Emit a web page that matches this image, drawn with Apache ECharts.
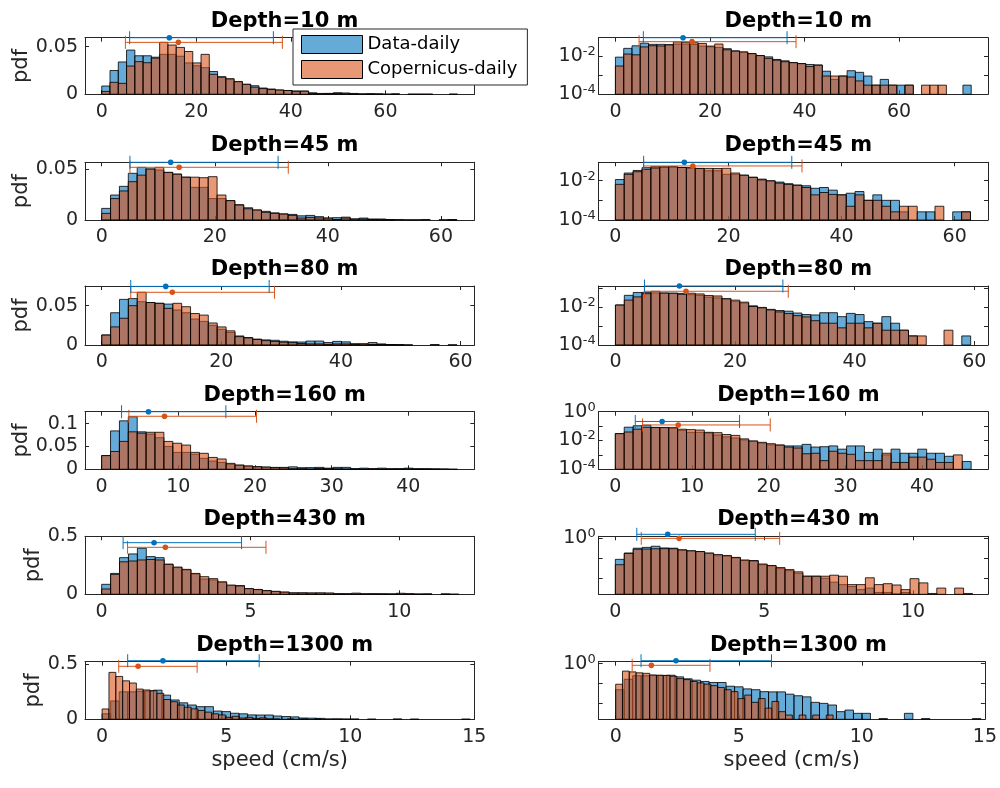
<!DOCTYPE html>
<html>
<head>
<meta charset="utf-8">
<script src="https://cdn.jsdelivr.net/npm/echarts@6/dist/echarts.min.js"></script>
<style>
  html, body { margin: 0; padding: 0; background: #fff; }
  #chart { width: 1000px; height: 788px; }
</style>
</head>
<body>
<div id="chart"></div>
<script>
// depths shown in the panel titles
const depths = ['10', '45', '80', '160', '430', '1300'];

// bin widths (cm/s), every histogram starts at 0
const binWidthData = [1.75, 1.57, 1.485, 1.16, 0.3, 0.345];
const binWidthCop = [1.75, 1.57, 1.485, 1.16, 0.3, 0.276];

// pdf per bin, Data-daily
const pdfData10 = [0.0087,0.025,0.034,0.0465,0.0405,0.0405,0.039,0.042,0.042,0.040,0.033,0.030,0.028,0.024,0.0185,0.0155,0.013,0.0105,0.009,0.0066,0.0056,0.0045,0.0040,0.0036,0.0034,0.0016,0.0006,0.0009,0.0017,0.0014,0.0009,0.0003,0.0006,0.0003,0.0003,0.0003,0,0,0,0,0,0,0.0003];
const pdfData45 = [0.0114,0.0245,0.033,0.0458,0.0516,0.050,0.049,0.0467,0.045,0.042,0.032,0.032,0.021,0.021,0.019,0.015,0.012,0.0098,0.0085,0.007,0.006,0.0055,0.0041,0.0045,0.0033,0.0019,0.0023,0.0028,0.001,0.0019,0.001,0.001,0.00026,0,0.00026,0.00026,0,0,0.00026,0.00026];
const pdfData80 = [0.0127,0.041,0.058,0.059,0.055,0.054,0.053,0.052,0.0445,0.041,0.033,0.030,0.025,0.020,0.016,0.0115,0.0095,0.0075,0.0065,0.006,0.0048,0.004,0.0038,0.005,0.005,0.0031,0.0046,0.004,0.0017,0.0014,0.0031,0.0014,0.0006,0.0003,0,0,0,0,0,0.0003];
const pdfData160 = [0.030,0.084,0.106,0.115,0.082,0.077,0.069,0.050,0.037,0.037,0.033,0.024,0.018,0.015,0.011,0.0085,0.0065,0.005,0.0045,0.0042,0.0042,0.0054,0.0035,0.0037,0.0042,0.0025,0.0042,0.0042,0.0015,0.0025,0.001,0.0025,0.0013,0.0013,0.0025,0.0013,0.0013,0.0008,0,0.00035];
const pdfData430 = [0.086,0.18,0.316,0.348,0.397,0.325,0.316,0.259,0.23,0.21,0.175,0.132,0.124,0.103,0.075,0.075,0.046,0.04,0.029,0.023,0.017,0.012,0.012,0.0095,0.006,0.0045,0.0036,0.0025,0.003,0.0018,0.0018,0.0015,0.0018,0.0012,0.001,0.0008,0.0008,0,0.0005,0];
const pdfData1300 = [0.05,0.167,0.25,0.25,0.255,0.258,0.265,0.22,0.176,0.15,0.13,0.115,0.115,0.075,0.07,0.055,0.05,0.04,0.039,0.039,0.03,0.025,0.022,0.0117,0.0104,0.0086,0.004,0.0048,0.0033,0.0033,0,0.0018,0,0,0.0033,0,0.0018,0,0,0,0,0,0.0018];

// pdf per bin, Copernicus-daily
const pdfCop10 = [0.003,0.0126,0.0115,0.0297,0.0343,0.0332,0.038,0.0546,0.0518,0.0493,0.045,0.033,0.042,0.021,0.018,0.0165,0.0135,0.0105,0.0075,0.006,0.005,0.0045,0.004,0.0028,0.0033,0.0009,0.0009,0.0009,0.0008,0.0005,0.0003,0.0003,0.0003,0.0003,0,0.0003,0,0.0003,0.0003,0.0003];
const pdfCop45 = [0.0065,0.021,0.0285,0.0376,0.044,0.050,0.0516,0.0467,0.045,0.042,0.042,0.0415,0.0425,0.0245,0.019,0.0147,0.011,0.0098,0.0075,0.0065,0.0058,0.0045,0.0019,0.0025,0.002,0.0019,0.0005,0.0019,0.001,0.001,0.0005,0.00026,0.0005,0.0005,0,0,0.0005,0,0,0.00026];
const pdfCop80 = [0.0127,0.023,0.034,0.05,0.067,0.054,0.053,0.0466,0.053,0.0487,0.040,0.038,0.028,0.023,0.018,0.0106,0.009,0.007,0.0055,0.0045,0.0035,0.003,0.0019,0.0014,0.0014,0.0008,0.0014,0.0014,0.0008,0.0014,0.0006,0.0006,0.0006,0.0003,0.0003,0,0,0.0006,0,0];
const pdfCop160 = [0.030,0.039,0.061,0.082,0.079,0.081,0.081,0.061,0.057,0.053,0.037,0.035,0.026,0.0226,0.013,0.0095,0.0075,0.006,0.005,0.0035,0.003,0.0012,0.0013,0.0004,0.0018,0.0013,0.0011,0.0004,0.0004,0.0004,0.0013,0.0003,0.0003,0.0007,0.0007,0.0005,0.0003,0.0003,0.001,0];
const pdfCop430 = [0.046,0.172,0.28,0.287,0.296,0.30,0.296,0.259,0.235,0.215,0.18,0.152,0.135,0.108,0.08,0.072,0.05,0.042,0.033,0.026,0.02,0.012,0.012,0.012,0.0135,0.012,0.0045,0.0045,0.01,0.0045,0.005,0.0043,0.0025,0.009,0.0055,0.0016,0.003,0,0.003,0.0016];
const pdfCop1300 = [0.094,0.427,0.39,0.35,0.33,0.275,0.267,0.26,0.236,0.18,0.16,0.13,0.11,0.095,0.08,0.065,0.05,0.04,0.018,0.027,0.0117,0.018,0.006,0.013,0.004,0.0027,0,0.0027,0,0.0027,0,0.0027];

// error bars: [low, mean, high] speed
const errData = [[5.9,14.3,36.3],[5.0,12.2,31.2],[4.85,10.7,28.0],[2.6,6.1,16.2],[0.72,1.76,4.7],[1.03,2.45,6.33]];
const errCop = [[5.0,16.2,38.2],[5.0,13.7,33.0],[4.85,11.8,28.9],[3.55,8.2,20.2],[0.87,2.14,5.52],[0.67,1.45,3.83]];
// pdf level the error bars sit at: [Data, Copernicus]
const errLevelLin = [[0.0595,0.0546],[0.0566,0.0517],[0.0745,0.067],[0.126,0.116],[0.445,0.405],[0.533,0.482]];
const errLevelLog = [[0.09,0.056],[0.086,0.056],[0.127,0.067],[0.21,0.12],[1.6,1.0],[1.41,0.83]];

// axes
const xMin = [-3.54, -2.95, -2.8, -2.17, -0.56, -0.69];
const xMax = [78.8, 65.9, 62.3, 48.6, 12.52, 15.0];
const xTicks = [[0,20,40,60],[0,20,40,60],[0,20,40,60],[0,10,20,30,40],[0,5,10],[0,5,10,15]];
const yMaxLin = [0.0595, 0.0566, 0.075, 0.126, 0.5, 0.524];
const yTicksLin = [[0,0.05],[0,0.05],[0,0.05],[0,0.05,0.1],[0,0.5],[0,0.5]];
const yMinLog = [1e-4, 1e-4, 1e-4, 1e-4, 0.00145, 0.00166];
const yMaxLog = [0.09, 0.086, 0.127, 1, 1.27, 1.26];
const logLabelPowers = [[-4,-2],[-4,-2],[-4,-2],[-4,-2,0],[0],[0]];

const pdfData = [pdfData10, pdfData45, pdfData80, pdfData160, pdfData430, pdfData1300];
const pdfCop = [pdfCop10, pdfCop45, pdfCop80, pdfCop160, pdfCop430, pdfCop1300];

// layout
const FONT = 'DejaVu Sans';
const INK = '#262626';
const colLeft = [85, 598.7];
const colWidth = 389.3;
const rowTop = [37.7, 162.3, 286, 411.7, 536.3, 661.7];
const rowHeight = [56.6, 57.7, 59, 57.6, 58, 57.6];
const blueLine = '#0072BD', orangeLine = '#D95319';
const blueFill = 'rgba(0,114,189,0.6)', orangeFill = 'rgba(217,83,25,0.6)';

function binsOf(arr, w) {
  const out = [];
  arr.forEach((v, i) => { if (v > 0) out.push([i * w, (i + 1) * w, v]); });
  return out;
}

function histRender(fill, base) {
  return function (params, api) {
    // bars under the axis floor are not drawn
    if (api.value(2) <= base) return null;
    const p0 = api.coord([api.value(0), api.value(2)]);
    const p1 = api.coord([api.value(1), base]);
    return {
      type: 'rect',
      shape: { x: p0[0], y: p0[1], width: p1[0] - p0[0], height: p1[1] - p0[1] },
      style: { fill: fill, stroke: 'rgba(0,0,0,0.8)', lineWidth: 1 }
    };
  };
}

function errRender(color) {
  return function (params, api) {
    const y = api.value(3);
    const a = api.coord([api.value(0), y]);
    const m = api.coord([api.value(1), y]);
    const b = api.coord([api.value(2), y]);
    const st = { stroke: color, lineWidth: 1 };
    return {
      type: 'group',
      children: [
        { type: 'line', shape: { x1: a[0], y1: a[1], x2: b[0], y2: b[1] }, style: st },
        { type: 'line', shape: { x1: a[0], y1: a[1] - 6.5, x2: a[0], y2: a[1] + 6.5 }, style: st },
        { type: 'line', shape: { x1: b[0], y1: b[1] - 6.5, x2: b[0], y2: b[1] + 6.5 }, style: st },
        { type: 'circle', shape: { cx: m[0], cy: m[1], r: 2.8 }, style: { fill: color } }
      ]
    };
  };
}

function logLabel(powers) {
  return function (v) {
    const l = Math.log10(v);
    const p = Math.round(l);
    if (Math.abs(l - p) > 1e-6 || powers.indexOf(p) < 0) return '';
    return '{b|10}{s|' + p + '}';
  };
}

const grids = [], xAxes = [], yAxes = [], series = [], titles = [];

depths.forEach((d, r) => {
  [0, 1].forEach(c => {
    const g = grids.length;
    const isLog = c === 1;
    grids.push({ left: colLeft[c], top: rowTop[r], width: colWidth, height: rowHeight[r] });
    titles.push({
      text: 'Depth=' + d + ' m',
      left: colLeft[c] + colWidth / 2,
      top: rowTop[r] - 32,
      textAlign: 'center',
      textStyle: { fontFamily: FONT, fontSize: 21, fontWeight: 'bold', color: '#000' }
    });

    const tick = { inside: true, length: 4, lineStyle: { color: INK } };
    const line = { onZero: false, lineStyle: { color: INK, width: 1 } };
    // bottom and top x axes
    xAxes.push({
      gridIndex: g, type: 'value', min: xMin[r], max: xMax[r], position: 'bottom',
      axisLine: line, splitLine: { show: false },
      axisTick: Object.assign({ customValues: xTicks[r] }, tick),
      axisLabel: { customValues: xTicks[r], margin: 8, fontFamily: FONT, fontSize: 19, color: INK },
      name: r === 5 ? 'speed (cm/s)' : '', nameLocation: 'middle', nameGap: 31,
      nameTextStyle: { fontFamily: FONT, fontSize: 21, color: INK }
    });
    xAxes.push({
      gridIndex: g, type: 'value', min: xMin[r], max: xMax[r], position: 'top',
      axisLine: line, splitLine: { show: false },
      axisTick: Object.assign({ customValues: xTicks[r] }, tick),
      axisLabel: { show: false }
    });

    // left and right y axes
    let yLeft, yRight;
    if (!isLog) {
      yLeft = {
        gridIndex: g, type: 'value', min: 0, max: yMaxLin[r], position: 'left',
        axisLine: line, splitLine: { show: false },
        axisTick: Object.assign({ customValues: yTicksLin[r] }, tick),
        axisLabel: { customValues: yTicksLin[r], margin: 7, fontFamily: FONT, fontSize: 19, color: INK,
          formatter: v => String(v) },
        name: 'pdf', nameLocation: 'middle', nameGap: r < 4 ? 50 : 41,
        nameTextStyle: { fontFamily: FONT, fontSize: 21, color: INK }
      };
      yRight = {
        gridIndex: g, type: 'value', min: 0, max: yMaxLin[r], position: 'right',
        axisLine: line, splitLine: { show: false },
        axisTick: Object.assign({ customValues: yTicksLin[r] }, tick),
        axisLabel: { show: false }
      };
    } else {
      yLeft = {
        gridIndex: g, type: 'log', logBase: 10, min: yMinLog[r], max: yMaxLog[r], position: 'left',
        axisLine: line, splitLine: { show: false }, axisTick: tick,
        axisLabel: {
          margin: 3, showMinLabel: true, showMaxLabel: true,
          formatter: logLabel(logLabelPowers[r]),
          rich: {
            b: { fontFamily: FONT, fontSize: 19, color: INK },
            s: { fontFamily: FONT, fontSize: 13, color: INK, verticalAlign: 'top', padding: [0, 0, 9, 0] }
          }
        }
      };
      yRight = {
        gridIndex: g, type: 'log', logBase: 10, min: yMinLog[r], max: yMaxLog[r], position: 'right',
        axisLine: line, splitLine: { show: false }, axisTick: tick,
        axisLabel: { show: false }
      };
    }
    yAxes.push(yLeft, yRight);

    const xi = 2 * g, yi = 2 * g;
    const base = isLog ? yMinLog[r] : 0;
    const lev = isLog ? errLevelLog[r] : errLevelLin[r];

    series.push({
      type: 'custom', name: 'Data-daily', xAxisIndex: xi, yAxisIndex: yi, z: 2,
      itemStyle: { color: blueFill, borderColor: '#000', borderWidth: 1 },
      encode: { x: [0, 1], y: 2 },
      data: binsOf(pdfData[r], binWidthData[r]),
      renderItem: histRender(blueFill, base)
    });
    series.push({
      type: 'custom', name: 'Copernicus-daily', xAxisIndex: xi, yAxisIndex: yi, z: 3,
      itemStyle: { color: orangeFill, borderColor: '#000', borderWidth: 1 },
      encode: { x: [0, 1], y: 2 },
      data: binsOf(pdfCop[r], binWidthCop[r]),
      renderItem: histRender(orangeFill, base)
    });
    series.push({
      type: 'custom', name: 'err-data', xAxisIndex: xi, yAxisIndex: yi, z: 5, clip: false,
      encode: { x: [0, 1, 2], y: 3 },
      data: [[errData[r][0], errData[r][1], errData[r][2], lev[0]]],
      renderItem: errRender(blueLine)
    });
    series.push({
      type: 'custom', name: 'err-cop', xAxisIndex: xi, yAxisIndex: yi, z: 4, clip: false,
      encode: { x: [0, 1, 2], y: 3 },
      data: [[errCop[r][0], errCop[r][1], errCop[r][2], lev[1]]],
      renderItem: errRender(orangeLine)
    });
  });
});

const chart = echarts.init(document.getElementById('chart'), null, { renderer: 'canvas' });
chart.setOption({
  animation: false,
  backgroundColor: '#fff',
  title: titles,
  grid: grids,
  xAxis: xAxes,
  yAxis: yAxes,
  legend: {
    data: [
      { name: 'Data-daily', icon: 'rect', itemStyle: { color: blueFill, borderColor: '#000', borderWidth: 1 } },
      { name: 'Copernicus-daily', icon: 'rect', itemStyle: { color: orangeFill, borderColor: '#000', borderWidth: 1 } }
    ],
    orient: 'vertical', left: 293, top: 29, z: 10,
    itemWidth: 61, itemHeight: 18, itemGap: 6,
    padding: [6, 10, 6, 8],
    backgroundColor: '#fff', borderColor: INK, borderWidth: 1, borderRadius: 0,
    selectedMode: false,
    textStyle: { fontFamily: FONT, fontSize: 18, color: '#000' }
  },
  series: series
});
</script>
</body>
</html>
